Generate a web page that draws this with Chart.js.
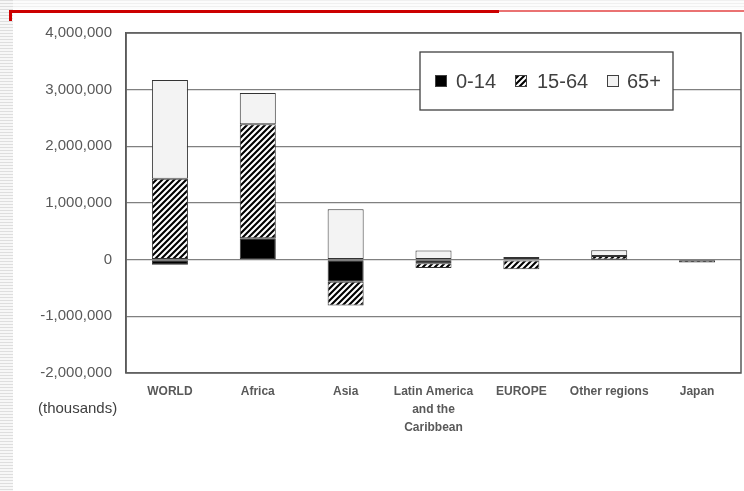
<!DOCTYPE html>
<html>
<head>
<meta charset="utf-8">
<script src="https://cdn.jsdelivr.net/npm/chart.js@4/dist/chart.umd.min.js"></script>
<style>
  html, body { margin: 0; padding: 0; background: #ffffff; width: 744px; height: 491px; overflow: hidden; }
  #stripesLeft { position: absolute; left: 0; top: 0; width: 13px; height: 491px;
    background: repeating-linear-gradient(to bottom, #dedede 0px, #dedede 1px, #f7f7f7 1px, #f7f7f7 3px); }
  #stripesTop { position: absolute; left: 13px; top: 0; width: 731px; height: 9px;
    background: repeating-linear-gradient(to bottom, #f0f0f0 0px, #f0f0f0 1px, #fcfcfc 1px, #fcfcfc 3px); }
  #redThick { position: absolute; left: 9px; top: 10px; width: 490px; height: 3px; background: #cc0000; }
  #redTick { position: absolute; left: 9px; top: 10px; width: 3px; height: 11px; background: #cc0000; }
  #redThin { position: absolute; left: 499px; top: 10px; width: 245px; height: 2px; background: #ea7272; }
  #unit { position: absolute; left: 38px; top: 399px; font: 15px "Liberation Sans", Arial, sans-serif; color: #404040; }
  #wrap { position: absolute; left: 0; top: 0; width: 744px; height: 491px; }
</style>
</head>
<body>
<div id="stripesLeft"></div>
<div id="stripesTop"></div>
<div id="redThick"></div>
<div id="redTick"></div>
<div id="redThin"></div>
<div id="wrap"><canvas id="c" width="744" height="491"></canvas></div>
<div id="unit">(thousands)</div>
<script>
// ---- data (thousands) ----
const categories = ["WORLD", "Africa", "Asia", ["Latin America", "and the", "Caribbean"], "EUROPE", "Other regions", "Japan"];
const seriesNames = ["0-14", "15-64", "65+"];
const age0to14  = [-90000,  380000, -390000, -65000, -15000,   5000, -12000];
const age15to64 = [1430000, 2010000, -420000, -80000, -155000, 60000, -40000];
const age65plus = [1740000, 550000,  890000, 160000,  45000, 100000,  0];
const yTicks = [-2000000, -1000000, 0, 1000000, 2000000, 3000000, 4000000];

// ---- hatch pattern ----
function makeHatch() {
  const s = 6;
  const cv = document.createElement('canvas');
  cv.width = s; cv.height = s;
  const g = cv.getContext('2d');
  g.fillStyle = '#ffffff'; g.fillRect(0, 0, s, s);
  g.strokeStyle = '#000000'; g.lineWidth = 2.1;
  g.beginPath();
  g.moveTo(0, s); g.lineTo(s, 0);
  g.moveTo(-1, 1); g.lineTo(1, -1);
  g.moveTo(s - 1, s + 1); g.lineTo(s + 1, s - 1);
  g.stroke();
  return g.createPattern(cv, 'repeat');
}
const hatch = makeHatch();
const fills = ['#000000', hatch, '#f3f3f3'];

const frameAndLegend = {
  id: 'frameAndLegend',
  afterDraw(chart) {
    const ctx = chart.ctx, a = chart.chartArea;
    ctx.save();
    ctx.strokeStyle = '#595959'; ctx.lineWidth = 1.5;
    ctx.strokeRect(a.left, a.top, a.right - a.left, a.bottom - a.top);
    // legend box
    const bx = 420, by = 52, bw = 253, bh = 58;
    ctx.fillStyle = '#ffffff';
    ctx.fillRect(bx, by, bw, bh);
    ctx.strokeStyle = '#404040'; ctx.lineWidth = 1.3;
    ctx.strokeRect(bx, by, bw, bh);
    const sq = [435, 515, 607], tx = [456, 537, 627];
    ctx.font = '20px "Liberation Sans", Arial, sans-serif';
    ctx.textBaseline = 'middle';
    chart.data.datasets.forEach((ds, i) => {
      ctx.fillStyle = ds.backgroundColor;
      ctx.fillRect(sq[i], 75, 12, 12);
      ctx.strokeStyle = '#404040'; ctx.lineWidth = 1;
      ctx.strokeRect(sq[i] + 0.5, 75.5, 11, 11);
      ctx.fillStyle = '#404040';
      ctx.fillText(ds.label, tx[i], 82);
    });
    ctx.restore();
  }
};

new Chart(document.getElementById('c'), {
  type: 'bar',
  data: {
    labels: categories,
    datasets: [age0to14, age15to64, age65plus].map((d, i) => ({
      label: seriesNames[i],
      data: d,
      backgroundColor: fills[i],
      borderColor: '#333333',
      borderWidth: 1,
      borderSkipped: false,
      barPercentage: 0.41,
      categoryPercentage: 1.0
    }))
  },
  options: {
    responsive: false,
    animation: false,
    layout: { padding: { left: 0, top: 33, right: 3, bottom: 0 } },
    plugins: { legend: { display: false }, tooltip: { enabled: false } },
    scales: {
      x: {
        stacked: true,
        grid: { display: false, drawTicks: false },
        border: { display: false },
        ticks: {
          autoSkip: false, maxRotation: 0, padding: 10,
          color: '#595959',
          font: { family: '"Liberation Sans", Arial, sans-serif', size: 12, weight: 'bold', lineHeight: 1.5 }
        },
        afterFit(s) { s.height = 118; }
      },
      y: {
        stacked: true,
        min: -2000000, max: 4000000,
        afterBuildTicks(s) { s.ticks = yTicks.map(v => ({ value: v })); },
        grid: { color: '#808080', lineWidth: 1.3, drawTicks: false },
        border: { display: true, color: '#595959', width: 1.5 },
        ticks: {
          padding: 14,
          color: '#595959',
          font: { family: '"Liberation Sans", Arial, sans-serif', size: 15 },
          callback: v => Number(v).toLocaleString('en-US')
        },
        afterFit(s) { s.width = 126; }
      }
    }
  },
  plugins: [frameAndLegend]
});
</script>
</body>
</html>
